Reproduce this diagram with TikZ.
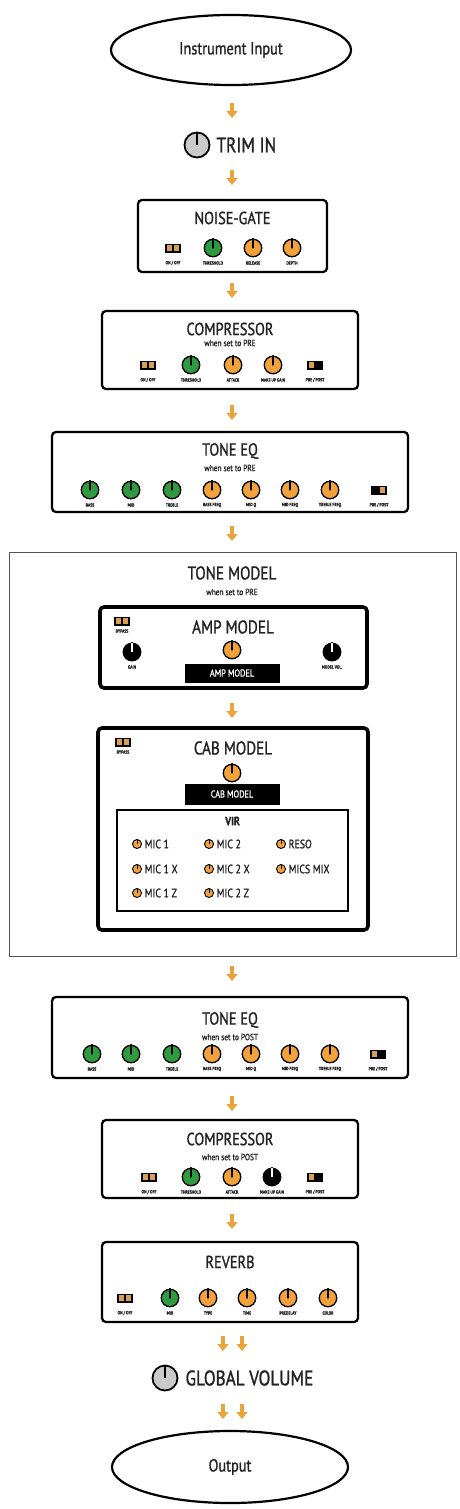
\documentclass[tikz,border=0pt]{standalone}
\usepackage{fontspec}
\setmainfont{PT Sans}[FakeStretch=0.82,FakeBold=1.2]
\usetikzlibrary{shapes.geometric,arrows.meta}
\definecolor{kgreen}{HTML}{2F9A3F}
\definecolor{korange}{HTML}{F2A23A}
\definecolor{arrowor}{HTML}{E9A43C}
\definecolor{kgray}{HTML}{CACACA}
\definecolor{swtan}{HTML}{D9A055}
\definecolor{tmframe}{HTML}{555555}
\definecolor{txt}{HTML}{222222}
\newcommand\knob[5]{%
  \node[knobshape, fill=#4] (#1) at (#2,#3) {};
  \draw[line width=1.3pt, line cap=round] (#1.center) -- (#1.north);
  \node[klabel] (#1lab) at (#2,#3+15) {#5};
}
\newcommand\onoff[4]{%
  \node[swshape] (#1) at (#2,#3) {};
  \fill[swtan] (#2-6.3,#3-2.6) rectangle (#2-0.9,#3+2.6);
  \fill[swtan] (#2+0.9,#3-2.6) rectangle (#2+6.3,#3+2.6);
  \node[klabel] (#1lab) at (#2,#3+15) {#4};
}
\newcommand\prepost[5]{%
  \node[swshape] (#1) at (#2,#3) {};
  \fill[swtan] (#2+#5*6.3,#3-2.6) rectangle (#2+#5*0.9,#3+2.6);
  \node[klabel] (#1lab) at (#2,#3+15) {#4};
}
\newcommand\mic[4]{%
  \node[micknob] (#1) at (#2,#3) {};
  \draw[line width=0.9pt] (#1.center) -- (#1.north);
  \node[mictext, anchor=west] (#1t) at (#2+7.5,#3) {#4};
}
\begin{document}
\begin{tikzpicture}[x=1pt,y=-1pt,
  every node/.style={text=txt},
  module/.style={draw, line width=2.3pt, rounded corners=4pt, inner sep=0},
  heavy/.style={draw, line width=3.6pt, rounded corners=4pt, inner sep=0},
  oval/.style={ellipse, draw, line width=2.2pt, inner sep=0},
  title/.style={font=\fontsize{17.5}{17.5}\selectfont},
  bigtxt/.style={font=\fontsize{21}{21}\selectfont},
  sub/.style={font=\fontsize{9}{9}\selectfont},
  klabel/.style={font=\fontsize{4.6}{4.6}\selectfont\bfseries},
  mictext/.style={font=\fontsize{12}{12}\selectfont, inner sep=0},
  knobshape/.style={circle, draw, line width=1.3pt, minimum size=17.5pt, inner sep=0},
  micknob/.style={circle, draw, line width=0.9pt, fill=korange, minimum size=9pt, inner sep=0},
  bigknob/.style={circle, draw, line width=1.8pt, fill=kgray, minimum size=25pt, inner sep=0},
  swshape/.style={draw=black, fill=black, minimum width=15pt, minimum height=8pt, inner sep=0},
  display/.style={fill=black, text=white, font=\fontsize{10}{10}\selectfont, minimum width=95pt, inner sep=0},
  flow/.style={draw=arrowor, line width=3.6pt, -{Triangle[width=11pt,length=7pt]}},
]
\useasboundingbox (0,0) rectangle (459,1509);

% input / output
\node[oval, minimum width=240pt, minimum height=70pt, font=\fontsize{17.5}{17.5}\selectfont] (input) at (231,50) {Instrument Input};
\node[oval, minimum width=236pt, minimum height=72pt, font=\fontsize{17.5}{17.5}\selectfont] (out) at (230,1467) {Output};

% trim in
\node[bigknob] (trim) at (197,145) {};
\draw[line width=1.8pt] (trim.center) -- (trim.north);
\node[bigtxt, anchor=west] (trimtxt) at (213,145) {TRIM IN};

% global volume
\node[bigknob] (gv) at (165,1378) {};
\draw[line width=1.8pt] (gv.center) -- (gv.north);
\node[bigtxt, anchor=west] (gvtxt) at (182,1378) {GLOBAL VOLUME};

% noise gate
\node[module, minimum width=189pt, minimum height=72pt] (ng) at (232.5,236) {};
\node[title] (ngt) at (232.5,218) {NOISE-GATE};
\onoff{ng1}{173}{248}{ON / OFF}
\knob{ng2}{213}{248}{kgreen}{THRESHOLD}
\knob{ng3}{253}{248}{korange}{RELEASE}
\knob{ng4}{292}{248}{korange}{DEPTH}

% compressor pre
\node[module, minimum width=256pt, minimum height=78pt] (cpre) at (230,350) {};
\node[title] (cpret) at (230,329) {COMPRESSOR};
\node[sub] (cpres) at (230,343) {when set to PRE};
\onoff{cp1}{148}{365}{ON / OFF}
\knob{cp2}{191}{365}{kgreen}{THRESHOLD}
\knob{cp3}{233}{365}{korange}{ATTACK}
\knob{cp4}{273}{365}{korange}{MAKE UP GAIN}
\prepost{cp5}{315}{365}{PRE / POST}{-1}

% tone eq pre
\node[module, minimum width=356pt, minimum height=80pt] (eqpre) at (230,472) {};
\node[title] (eqpret) at (230,451) {TONE EQ};
\node[sub] (eqpres) at (230,468) {when set to PRE};
\knob{ep1}{90}{490}{kgreen}{BASS}
\knob{ep2}{131}{490}{kgreen}{MID}
\knob{ep3}{172}{490}{kgreen}{TREBLE}
\knob{ep4}{212}{490}{korange}{BASS FREQ}
\knob{ep5}{251}{490}{korange}{MID Q}
\knob{ep6}{290}{490}{korange}{MID FREQ}
\knob{ep7}{330}{490}{korange}{TREBLE FREQ}
\prepost{ep8}{379}{490}{PRE / POST}{1}

% tone model
\node[draw=tmframe, line width=1pt, minimum width=447pt, minimum height=404pt, inner sep=0] (tm) at (232.5,754) {};
\node[title, font=\fontsize{18.5}{18.5}\selectfont] (tmt) at (232,573) {TONE MODEL};
\node[sub] (tms) at (232,592) {when set to PRE};

% amp model
\node[heavy, minimum width=267pt, minimum height=81pt] (amp) at (233.5,647.5) {};
\node[title, font=\fontsize{18.5}{18.5}\selectfont] (ampt) at (233,627) {AMP MODEL};
\onoff{ab}{122}{621}{}
\node[klabel] (abl) at (122,631) {BYPASS};
\knob{ag}{132}{652}{black}{GAIN}
\draw[white, line width=1.1pt] (ag.center) -- (ag.north);
\knob{am}{232}{650}{korange}{}
\knob{av}{332}{652}{black}{MODEL VOL.}
\draw[white, line width=1.1pt] (av.center) -- (av.north);
\node[display, minimum height=19pt] (ampd) at (232,673) {AMP MODEL};

% cab model
\node[heavy, minimum width=270pt, minimum height=202pt] (cab) at (233,829) {};
\node[title, font=\fontsize{18.5}{18.5}\selectfont] (cabt) at (233,748) {CAB MODEL};
\onoff{cb}{123}{742}{}
\node[klabel] (cbl) at (123,752) {BYPASS};
\knob{cm}{232}{773}{korange}{}
\node[display, minimum height=21pt] (cabd) at (232,794) {CAB MODEL};

% VIR
\node[draw, line width=1.1pt, minimum width=231pt, minimum height=101pt, inner sep=0] (vir) at (232.5,860.5) {};
\node[font=\fontsize{12}{12}\selectfont\bfseries] (virt) at (232.5,821) {VIR};
\mic{m1}{137}{844}{MIC 1}
\mic{m2}{209}{844}{MIC 2}
\mic{m3}{281}{844}{RESO}
\mic{m4}{137}{869}{MIC 1 X}
\mic{m5}{209}{869}{MIC 2 X}
\mic{m6}{281}{869}{MICS MIX}
\mic{m7}{137}{893}{MIC 1 Z}
\mic{m8}{209}{893}{MIC 2 Z}

% tone eq post
\node[module, minimum width=356pt, minimum height=81pt] (eqpost) at (230,1037.5) {};
\node[title] (eqpostt) at (230,1020) {TONE EQ};
\node[sub] (eqposts) at (230,1037) {when set to POST};
\knob{eq1}{92}{1054}{kgreen}{BASS}
\knob{eq2}{131}{1054}{kgreen}{MID}
\knob{eq3}{172}{1054}{kgreen}{TREBLE}
\knob{eq4}{212}{1054}{korange}{BASS FREQ}
\knob{eq5}{251}{1054}{korange}{MID Q}
\knob{eq6}{290}{1054}{korange}{MID FREQ}
\knob{eq7}{330}{1054}{korange}{TREBLE FREQ}
\prepost{eq8}{378}{1054}{PRE / POST}{-1}

% compressor post
\node[module, minimum width=256pt, minimum height=78pt] (cpost) at (230,1159) {};
\node[title] (cpostt) at (230,1139) {COMPRESSOR};
\node[sub] (cposts) at (230,1157) {when set to POST};
\onoff{cq1}{149}{1177}{ON / OFF}
\knob{cq2}{191}{1177}{kgreen}{THRESHOLD}
\knob{cq3}{232}{1177}{korange}{ATTACK}
\knob{cq4}{272}{1177}{black}{MAKE UP GAIN}
\draw[white, line width=1.1pt] (cq4.center) -- (cq4.north);
\prepost{cq5}{315}{1177}{PRE / POST}{-1}

% reverb
\node[module, minimum width=256pt, minimum height=80pt] (rev) at (230,1282) {};
\node[title] (revt) at (230,1262) {REVERB};
\onoff{rv1}{125}{1298}{ON / OFF}
\knob{rv2}{170}{1298}{kgreen}{MIX}
\knob{rv3}{208}{1298}{korange}{TYPE}
\knob{rv4}{247}{1298}{korange}{TIME}
\knob{rv5}{288}{1298}{korange}{PREDELAY}
\knob{rv6}{328}{1298}{korange}{COLOR}

% flow arrows
\foreach \i/\x/\ys/\ye in {1/232/103/118, 2/232/170/185, 3/232/283/298, 4/232/405/420,
  5/232/526/541, 6/232/703/718, 7/232/966/981, 8/232/1096/1111, 9/232/1214/1229,
  10/223/1336/1351, 11/242/1336/1351, 12/223/1404/1419, 13/242/1404/1419}{
  \coordinate (a\i s) at (\x,\ys);
  \coordinate (a\i e) at (\x,\ye);
  \draw[flow] (a\i s) -- (a\i e);
}
\end{tikzpicture}
\end{document}
